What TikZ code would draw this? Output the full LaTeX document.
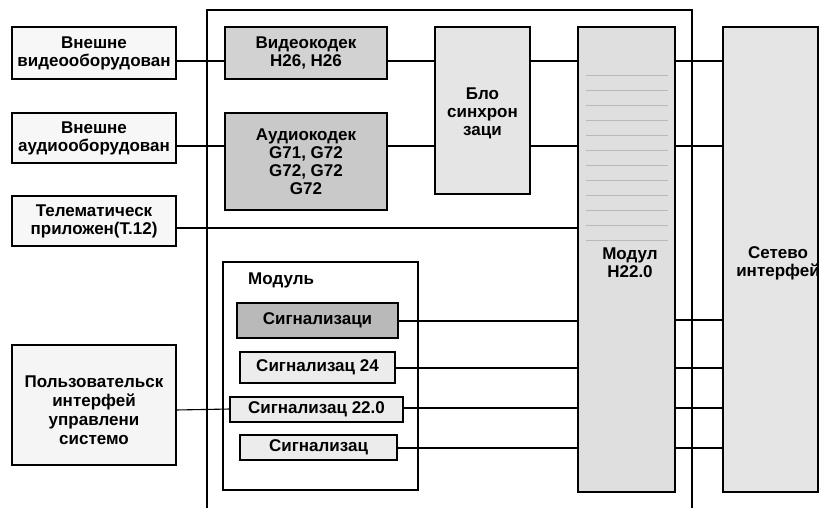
\documentclass[tikz,border=0pt]{standalone}
\usepackage{fontspec}
\setmainfont{Liberation Sans}
\begin{document}
\begin{tikzpicture}[x=1pt,y=-1pt,
  blk/.style={draw=black,line width=1.2pt,rectangle,inner sep=0pt,outer sep=0pt,align=center},
  wire/.style={line width=1.1pt},
  txt/.style={inner sep=0pt,align=center,font=\fontsize{17}{18}\selectfont\bfseries}]
\useasboundingbox (0,0) rectangle (832,508);
% outer container (open at bottom)
\coordinate (cbl) at (207,508);
\coordinate (cbr) at (692,508);
\draw[wire] (cbl) -- (207,10) -- (692,10) -- (cbr);
% left boxes
\node[blk,fill=gray!6,minimum width=164,minimum height=52] (b1) at (94,53) {};
\node[txt] at (b1) {Внешне\\видеооборудован};
\node[blk,fill=gray!6,minimum width=164,minimum height=50] (b2) at (94,138) {};
\node[txt] at (b2) {Внешне\\аудиооборудован};
\node[blk,fill=gray!6,minimum width=164,minimum height=50] (b3) at (94,221) {};
\node[txt] at (b3) {Телематическ\\приложен(Т.12)};
\node[blk,fill=gray!8,minimum width=164,minimum height=120] (b4) at (94,405) {};
\node[txt,font=\fontsize{17}{19}\selectfont\bfseries] at (94,410) {Пользовательск\\интерфей\\управлени\\системо};
% codecs
\node[blk,fill=gray!35,minimum width=162,minimum height=52] (vid) at (306,53) {};
\node[txt] at (vid) {Видеокодек\\H26, H26};
\node[blk,fill=gray!42,minimum width=162,minimum height=97] (aud) at (306,161.5) {};
\node[txt] at (aud) {Аудиокодек\\G71, G72\\G72, G72\\G72};
% sync block
\node[blk,fill=gray!20,minimum width=95,minimum height=167] (syn) at (482.5,110.5) {};
\node[txt] at (482.5,113) {Бло\\синхрон\\заци};
% module H22.0
\node[blk,fill=gray!25,minimum width=97,minimum height=465] (mh) at (626.5,259.5) {};
\foreach \yy in {75,90,105,120,135,150,165,180,195,210,225,240}
  \draw[gray!55,line width=0.6pt] (586,\yy) -- (668,\yy);
\node[txt] at (630,263) {Модул\\H22.0};
% network interface
\node[blk,fill=gray!20,minimum width=95,minimum height=465] (net) at (770.5,259.5) {};
\node[txt] at (778,263) {Сетево\\интерфей};
% inner module
\node[blk,fill=white,minimum width=195,minimum height=228] (im) at (320.5,376) {};
\node[txt,anchor=west] (iml) at (248,280) {Модуль};
\node[blk,fill=gray!55,minimum width=161,minimum height=35] (s1) at (317.5,320.5) {};
\node[txt] at (s1) {Сигнализаци};
\node[blk,fill=gray!15,minimum width=155,minimum height=31] (s2) at (317.5,367.5) {};
\node[txt] at (s2) {Сигнализац 24};
\node[blk,fill=gray!15,minimum width=173,minimum height=25] (s3) at (316.5,409.5) {};
\node[txt] at (s3) {Сигнализац 22.0};
\node[blk,fill=gray!15,minimum width=157,minimum height=25] (s4) at (318.5,447.5) {};
\node[txt] at (s4) {Сигнализац};
% connectors
\draw[wire] (b1.east |- 0,61) -- (vid.west |- 0,61);
\draw[wire] (b2.east |- 0,146) -- (aud.west |- 0,146);
\draw[wire] (vid.east |- 0,61) -- (syn.west |- 0,61);
\draw[wire] (aud.east |- 0,146) -- (syn.west |- 0,146);
\draw[wire] (syn.east |- 0,61) -- (mh.west |- 0,61);
\draw[wire] (syn.east |- 0,146) -- (mh.west |- 0,146);
\draw[wire] (b3.east |- 0,228) -- (mh.west |- 0,228);
\draw[wire] (b4.east |- 0,410) -- (s3.west |- 0,409);
\draw[wire] (s1.east |- 0,321) -- (mh.west |- 0,321);
\draw[wire] (s2.east |- 0,368) -- (mh.west |- 0,368);
\draw[wire] (s3.east |- 0,408) -- (mh.west |- 0,408);
\draw[wire] (s4.east |- 0,448) -- (mh.west |- 0,448);
\foreach \yy in {61,146,320,368,408,448}
  \draw[wire] (mh.east |- 0,\yy) -- (net.west |- 0,\yy);
\end{tikzpicture}
\end{document}
